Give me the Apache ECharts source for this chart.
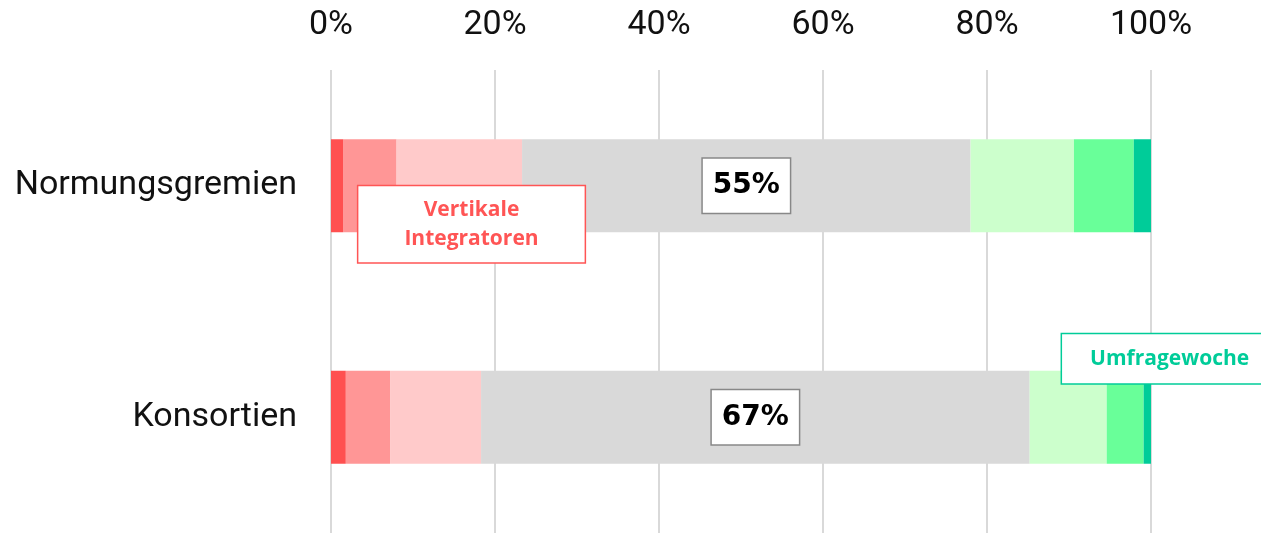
<!DOCTYPE html>
<html>
<head>
<meta charset="utf-8">
<title>Normungsgremien / Konsortien</title>
<script src="https://cdn.jsdelivr.net/npm/echarts@6/dist/echarts.min.js"></script>
<style>
  html, body { margin: 0; padding: 0; background: #fff; }
  #chart { width: 1261px; height: 533px; }
</style>
</head>
<body>
<div id="chart"></div>
<script>
var categories = ['Normungsgremien', 'Konsortien'];
var xTicks = [0, 20, 40, 60, 80, 100];

// shares per answer level, red (left) to green (right), in percent
var red1 = [1.5, 1.8];
var red2 = [6.5, 5.4];
var red3 = [15.3, 11.1];
var grey = [54.7, 66.9];
var green1 = [12.6, 9.4];
var green2 = [7.3, 4.5];
var green3 = [2.1, 0.9];

var colors = ['#ff5050', '#ff9696', '#ffcaca', '#d9d9d9', '#ccffcc', '#69ff99', '#00cc99'];

var chart = echarts.init(document.getElementById('chart'));

function seg(name, data, color, extra) {
  var s = {
    name: name,
    type: 'bar',
    stack: 'all',
    barWidth: 93,
    itemStyle: { color: color },
    emphasis: { disabled: true },
    data: data.slice()
  };
  for (var k in extra) s[k] = extra[k];
  return s;
}

// callout boxes are hung on one segment each
var red1Data = red1.map(function (v, i) {
  if (i !== 0) return v;
  return {
    value: v,
    label: {
      show: true,
      formatter: 'Vertikale\nIntegratoren',
      position: [140.5, 85],
      align: 'center',
      verticalAlign: 'middle',
      fontFamily: 'Open Sans',
      fontWeight: 'bold',
      fontSize: 21,
      lineHeight: 29,
      color: '#ff5555',
      backgroundColor: '#fff',
      borderColor: '#ff5555',
      borderWidth: 1.5,
      padding: [9, 46]
    }
  };
});

var green3Data = green3.map(function (v, i) {
  if (i !== 1) return v;
  return {
    value: v,
    label: {
      show: true,
      formatter: 'Umfragewoche',
      position: [26, -12],
      align: 'center',
      verticalAlign: 'middle',
      fontFamily: 'Open Sans',
      fontWeight: 'bold',
      fontSize: 21,
      lineHeight: 29,
      color: '#00cc99',
      backgroundColor: '#fff',
      borderColor: '#00cc99',
      borderWidth: 1.5,
      padding: [10, 28]
    }
  };
});

var option = {
  animation: false,
  grid: {
    left: 331,
    right: 110,
    top: 70,
    height: 465
  },
  xAxis: {
    type: 'value',
    position: 'top',
    min: 0,
    max: 100,
    interval: 20,
    axisLine: { show: false },
    axisTick: { show: false },
    splitLine: { lineStyle: { color: '#d9d9d9', width: 2 } },
    axisLabel: {
      formatter: '{value}%',
      margin: 28,
      fontFamily: 'Roboto',
      fontSize: 34,
      color: '#111'
    }
  },
  yAxis: {
    type: 'category',
    inverse: true,
    data: categories,
    axisLine: { show: false },
    axisTick: { show: false },
    axisLabel: {
      margin: 34,
      fontFamily: 'Roboto',
      fontSize: 34,
      color: '#111'
    }
  },
  series: [
    seg('red1', red1Data, colors[0], { z: 4 }),
    seg('red2', red2, colors[1]),
    seg('red3', red3, colors[2]),
    seg('grey', grey, colors[3], {
      label: {
        show: true,
        position: 'inside',
        formatter: function (p) { return Math.round(p.value) + '%'; },
        fontFamily: 'DejaVu Sans',
        fontWeight: 'bold',
        fontSize: 28,
        lineHeight: 34,
        color: '#000',
        backgroundColor: '#fff',
        borderColor: '#888',
        borderWidth: 1.5,
        padding: [10, 10]
      }
    }),
    seg('green1', green1, colors[4]),
    seg('green2', green2, colors[5]),
    seg('green3', green3Data, colors[6], { z: 4 })
  ]
};

chart.setOption(option);
</script>
</body>
</html>
